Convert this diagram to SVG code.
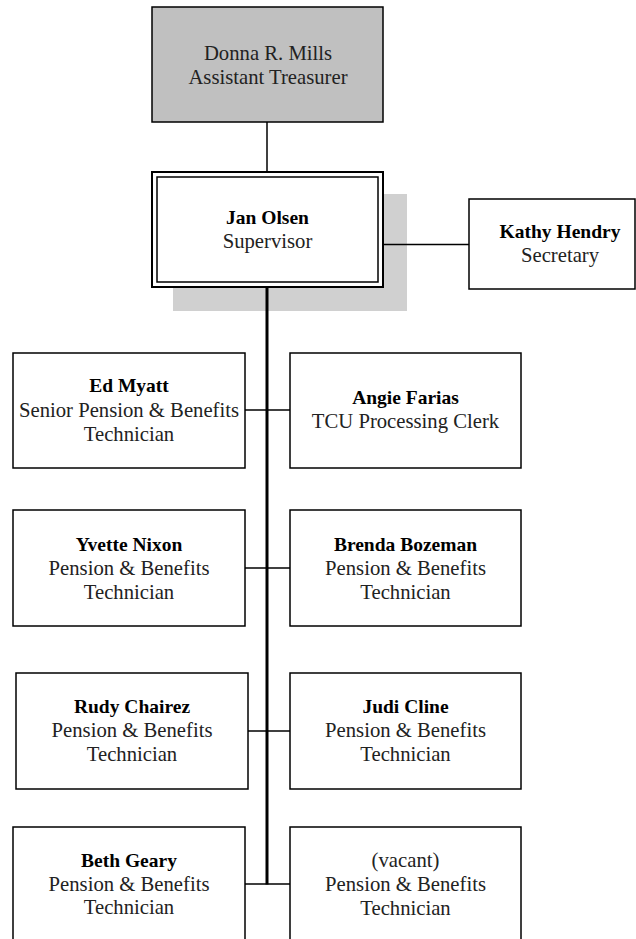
<svg xmlns="http://www.w3.org/2000/svg" width="636" height="939" viewBox="0 0 636 939">
<style>
.box{fill:#fff;stroke:#000;stroke-width:1.5}
.name{font-family:"Liberation Serif",serif;font-weight:bold;font-size:19.5px;text-anchor:middle;fill:#000}
.title{font-family:"Liberation Serif",serif;font-size:20.7px;text-anchor:middle;fill:#222}
.conn{stroke:#000;stroke-width:1.5;fill:none}
.trunk{stroke:#000;stroke-width:3;fill:none}
</style>
<rect width="636" height="939" fill="#fff"/>
<g id="donna">
<rect x="152" y="7" width="231" height="115" fill="#c0c0c0" stroke="#000" stroke-width="1.5"/>
<text class="title" x="268" y="60">Donna R. Mills</text>
<text class="title" x="268" y="84">Assistant Treasurer</text>
</g>
<g id="jan">
<rect x="173" y="194" width="234" height="117" fill="#d0d0d0"/>
<rect x="152" y="172" width="231" height="115" fill="#fff" stroke="#000" stroke-width="2"/>
<rect x="157" y="177" width="221" height="105" fill="none" stroke="#000" stroke-width="1.5"/>
<text class="name" x="267.5" y="224">Jan Olsen</text>
<text class="title" x="267.5" y="248">Supervisor</text>
</g>
<g id="kathy">
<rect class="box" x="469" y="199" width="166" height="90"/>
<text class="name" x="560" y="238">Kathy Hendry</text>
<text class="title" x="560" y="262">Secretary</text>
</g>
<g id="ed">
<rect class="box" x="13" y="353" width="232" height="115"/>
<text class="name" x="129" y="392">Ed Myatt</text>
<text class="title" x="129" y="416.5">Senior Pension &amp; Benefits</text>
<text class="title" x="129" y="440.5">Technician</text>
</g>
<g id="angie">
<rect class="box" x="290" y="353" width="231" height="115"/>
<text class="name" x="405.5" y="404">Angie Farias</text>
<text class="title" x="405.5" y="428">TCU Processing Clerk</text>
</g>
<g id="yvette">
<rect class="box" x="13" y="510" width="232" height="116"/>
<text class="name" x="129" y="551">Yvette Nixon</text>
<text class="title" x="129" y="575">Pension &amp; Benefits</text>
<text class="title" x="129" y="599">Technician</text>
</g>
<g id="brenda">
<rect class="box" x="290" y="510" width="231" height="116"/>
<text class="name" x="405.5" y="551">Brenda Bozeman</text>
<text class="title" x="405.5" y="575">Pension &amp; Benefits</text>
<text class="title" x="405.5" y="599">Technician</text>
</g>
<g id="rudy">
<rect class="box" x="16" y="673" width="232" height="116"/>
<text class="name" x="132" y="713">Rudy Chairez</text>
<text class="title" x="132" y="737">Pension &amp; Benefits</text>
<text class="title" x="132" y="761">Technician</text>
</g>
<g id="judi">
<rect class="box" x="290" y="673" width="231" height="116"/>
<text class="name" x="405.5" y="713">Judi Cline</text>
<text class="title" x="405.5" y="737">Pension &amp; Benefits</text>
<text class="title" x="405.5" y="761">Technician</text>
</g>
<g id="beth">
<rect class="box" x="13" y="827" width="232" height="130"/>
<text class="name" x="129" y="867">Beth Geary</text>
<text class="title" x="129" y="890.5">Pension &amp; Benefits</text>
<text class="title" x="129" y="914">Technician</text>
</g>
<g id="vacant">
<rect class="box" x="290" y="827" width="231" height="130"/>
<text class="title" x="405.5" y="867">(vacant)</text>
<text class="title" x="405.5" y="891">Pension &amp; Benefits</text>
<text class="title" x="405.5" y="915">Technician</text>
</g>
<g id="connectors">
<line class="conn" x1="267" y1="122" x2="267" y2="172"/>
<line class="conn" x1="383" y1="244.5" x2="469" y2="244.5"/>
<line class="trunk" x1="267" y1="287" x2="267" y2="884.5"/>
<line class="conn" x1="245" y1="410" x2="290" y2="410"/>
<line class="conn" x1="245" y1="568" x2="290" y2="568"/>
<line class="conn" x1="248" y1="731" x2="290" y2="731"/>
<line class="conn" x1="245" y1="884" x2="290" y2="884"/>
</g>
</svg>
